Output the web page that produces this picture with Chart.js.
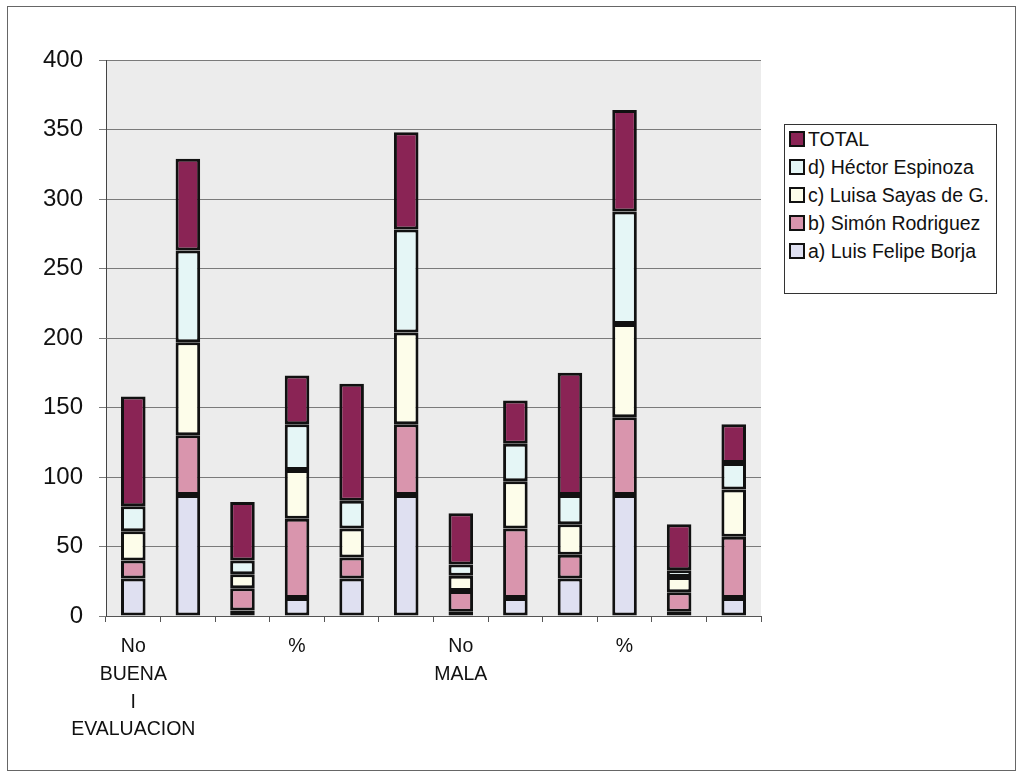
<!DOCTYPE html>
<html>
<head>
<meta charset="utf-8">
<script src="https://cdn.jsdelivr.net/npm/chart.js@4.4.1/dist/chart.umd.min.js"></script>
<style>
  body { margin: 0; background: #fff; font-family: "Liberation Sans", Arial, sans-serif; }
  #wrap { position: relative; width: 1022px; height: 775px; }
  #frame { position: absolute; left: 7px; top: 6px; width: 1007px; height: 763px; border: 1px solid #666; }
  #legend { position: absolute; left: 784px; top: 124px; width: 213px; height: 170px; border: 1px solid #333;
            box-sizing: border-box; padding: 0 0 0 4px; background: #fff; }
  .item { height: 28px; line-height: 28px; font-size: 19.5px; color: #111; white-space: nowrap; }
  .box { display: inline-block; width: 12px; height: 12px; border: 2px solid #111; vertical-align: -1px; margin-right: 3px; }
</style>
</head>
<body>
<div id="wrap">
  <div id="frame"></div>
  <canvas id="chart" width="1022" height="775"></canvas>
  <div id="legend"></div>
</div>
<script>
const categories = [
    ['No', 'BUENA', 'I', 'EVALUACION'], '', '', '%', '', '',
    ['No', 'MALA'], '', '', '%', '', ''
];
const seriesNames = ['a) Luis Felipe Borja', 'b) Simón Rodriguez', 'c) Luisa Sayas de G.', 'd) Héctor Espinoza', 'TOTAL'];
const luisFelipe = [27, 87, 4, 13, 27, 87, 3, 13, 27, 87, 3, 13];
const simon = [13, 43, 16, 57, 15, 51, 15, 50, 17, 56, 14, 44];
const luisa = [21, 67, 10, 35, 21, 66, 11, 34, 22, 67, 11, 34];
const hector = [18, 66, 10, 33, 20, 74, 8, 27, 21, 81, 5, 19];
const total = [79, 66, 42, 35, 84, 70, 37, 31, 88, 73, 33, 28];
const yTicks = [0, 50, 100, 150, 200, 250, 300, 350, 400];

const colors = ['#dfe0f1', '#d995ad', '#fdfdea', '#e5f6f6', '#8a2455'];
const values = [luisFelipe, simon, luisa, hector, total];

const datasets = seriesNames.map((name, i) => ({
    label: name,
    data: values[i],
    backgroundColor: colors[i],
    borderColor: '#111',
    borderWidth: 3,
    borderSkipped: false,
    barPercentage: 0.45,
    categoryPercentage: 1
}));

const plotBg = {
    id: 'plotBg',
    beforeDraw(chart) {
        const { ctx, chartArea: a } = chart;
        ctx.save();
        ctx.fillStyle = '#ececec';
        ctx.fillRect(a.left, a.top, a.right - a.left, a.bottom - a.top);
        ctx.restore();
    }
};

new Chart(document.getElementById('chart'), {
    type: 'bar',
    data: { labels: categories, datasets: datasets },
    options: {
        responsive: false,
        animation: false,
        layout: { padding: { left: 0, top: 60, right: 261, bottom: 0 } },
        plugins: {
            legend: { display: false },
            tooltip: { enabled: false }
        },
        scales: {
            x: {
                stacked: true,
                afterFit(scale) { scale.height = 159; },
                grid: { display: true, drawOnChartArea: false, tickLength: 6, color: '#555', offset: true },
                border: { color: '#555', width: 1 },
                ticks: {
                    autoSkip: false, maxRotation: 0, padding: 11, color: '#111',
                    font: { family: '"Liberation Sans", Arial', size: 19.5, lineHeight: 1.42 }
                }
            },
            y: {
                stacked: true,
                min: 0, max: 400,
                afterFit(scale) { scale.width = 106; },
                afterBuildTicks(scale) { scale.ticks = yTicks.map(v => ({ value: v })); },
                grid: { color: '#7a7a7a', tickLength: 7 },
                border: { color: '#444', width: 1 },
                ticks: {
                    padding: 16, color: '#111',
                    font: { family: '"Liberation Sans", Arial', size: 24 }
                }
            }
        }
    },
    plugins: [plotBg]
});

const legend = document.getElementById('legend');
for (let i = seriesNames.length - 1; i >= 0; i--) {
    const row = document.createElement('div');
    row.className = 'item';
    row.innerHTML = '<span class="box" style="background:' + colors[i] + '"></span>' + seriesNames[i];
    legend.appendChild(row);
}
</script>
</body>
</html>
